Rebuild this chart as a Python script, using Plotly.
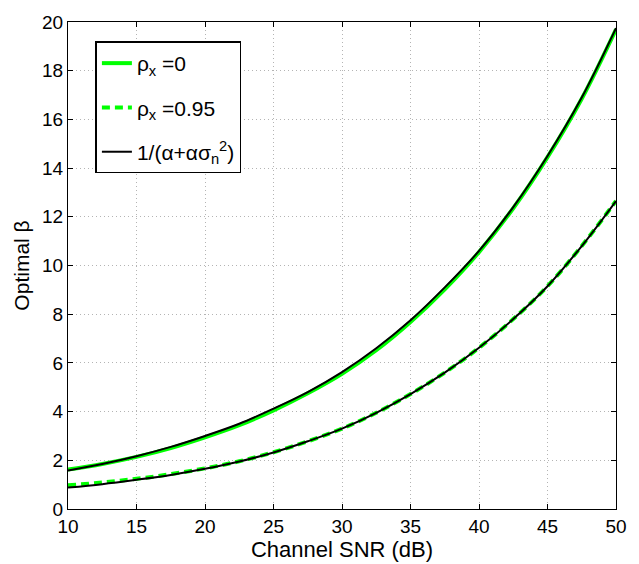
import plotly.graph_objects as go

# Channel SNR grid (dB)
snr_db = [10, 12.5, 15, 17.5, 20, 22.5, 25, 27.5, 30, 32.5, 35, 37.5, 40, 42.5, 45, 47.5, 50]

# Optimal beta, uncorrelated source (rho_x = 0)
beta_rho0 = [1.62, 1.85, 2.14, 2.50, 2.94, 3.44, 4.05, 4.75, 5.55, 6.52, 7.68, 9.02, 10.55, 12.35, 14.45, 16.85, 19.70]
# Optimal beta, correlated source (rho_x = 0.95)
beta_rho095 = [0.97, 1.09, 1.24, 1.43, 1.67, 1.96, 2.33, 2.78, 3.30, 3.95, 4.72, 5.60, 6.62, 7.80, 9.15, 10.80, 12.65]
# Closed-form approximation 1/(alpha + alpha*sigma_n^2), both cases
approx_rho0 = [1.58, 1.85, 2.17, 2.55, 3.00, 3.50, 4.12, 4.80, 5.62, 6.60, 7.75, 9.10, 10.60, 12.40, 14.50, 16.90, 19.75]
approx_rho095 = [0.88, 1.02, 1.20, 1.40, 1.65, 1.95, 2.32, 2.78, 3.30, 3.95, 4.72, 5.60, 6.62, 7.80, 9.15, 10.80, 12.65]

x_ticks = [10, 15, 20, 25, 30, 35, 40, 45, 50]
y_ticks = [0, 2, 4, 6, 8, 10, 12, 14, 16, 18, 20]

GREEN = "#00ff00"
FONT = "Liberation Sans, Arial, sans-serif"

fig = go.Figure()
fig.add_trace(go.Scatter(x=snr_db, y=beta_rho0, mode="lines", line=dict(color=GREEN, width=4, shape="spline"),
                         name="ρ<sub>x</sub> =0", legendgroup="a"))
fig.add_trace(go.Scatter(x=snr_db, y=beta_rho095, mode="lines",
                         line=dict(color=GREEN, width=4, dash="8px,5px", shape="spline"),
                         name="ρ<sub>x</sub> =0.95", legendgroup="b"))
fig.add_trace(go.Scatter(x=snr_db, y=approx_rho0, mode="lines", line=dict(color="black", width=2, shape="spline"),
                         name="1/(α+ασ<sub>n</sub><sup>2</sup>)", legendgroup="c"))
fig.add_trace(go.Scatter(x=snr_db, y=approx_rho095, mode="lines", line=dict(color="black", width=2, shape="spline"),
                         name="approx2", showlegend=False, legendgroup="c"))

axis_common = dict(
    showline=True, linecolor="black", linewidth=1, mirror="ticks",
    ticks="inside", ticklen=5, tickcolor="black",
    showgrid=True, gridcolor="#b4b4b4", griddash="1px,3px", gridwidth=1,
    zeroline=False, tickfont=dict(size=19, color="black", family=FONT),
)

fig.update_xaxes(range=[10, 50], tickvals=x_ticks, ticktext=[str(v) for v in x_ticks],
                 title=dict(text="Channel SNR (dB)", font=dict(size=22, color="black", family=FONT), standoff=0),
                 **axis_common)
fig.update_yaxes(range=[0, 20], tickvals=y_ticks, ticktext=[str(v) for v in y_ticks],
                 title=dict(text="Optimal β", font=dict(size=21, color="black", family=FONT), standoff=6),
                 **axis_common)

fig.update_layout(
    width=639, height=564,
    margin=dict(l=68, r=15, t=15, b=52),
    plot_bgcolor="white", paper_bgcolor="white",
    font=dict(family=FONT, color="black"),
    legend=dict(x=0.05, y=0.96, xanchor="left", yanchor="top",
                bgcolor="white", bordercolor="black", borderwidth=1.5,
                tracegroupgap=14, itemwidth=30,
                font=dict(size=21, color="black", family=FONT)),
)

fig.write_html("out.html")
